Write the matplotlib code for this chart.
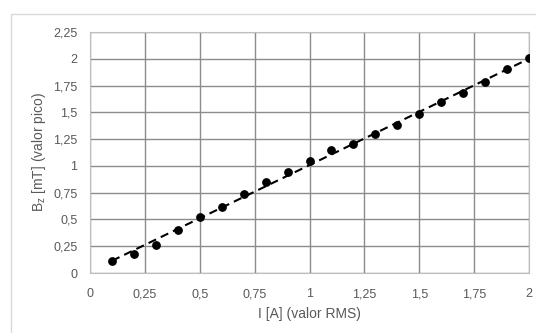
import numpy as np
import matplotlib.pyplot as plt
from matplotlib.ticker import FuncFormatter, MultipleLocator
from matplotlib.patches import Rectangle

corriente = [0.1, 0.2, 0.3, 0.4, 0.5, 0.6, 0.7, 0.8, 0.9, 1.0,
             1.1, 1.2, 1.3, 1.4, 1.5, 1.6, 1.7, 1.8, 1.9, 2.0]
campo = [0.11, 0.18, 0.26, 0.40, 0.52, 0.62, 0.74, 0.85, 0.94, 1.05,
         1.15, 1.20, 1.30, 1.38, 1.48, 1.60, 1.68, 1.78, 1.90, 2.01]

plt.rcParams['font.family'] = ['Liberation Sans', 'DejaVu Sans']
plt.rcParams['mathtext.fontset'] = 'custom'
plt.rcParams['mathtext.rm'] = 'Liberation Sans'

fig = plt.figure(figsize=(5.36, 3.33), dpi=100)
ax = fig.add_axes([0.168, 0.18, 0.819, 0.724])

# marco exterior del grafico
fig.patches.append(Rectangle((11 / 536, -0.1), 1.2, 1 - 14 / 333 + 0.1,
                             transform=fig.transFigure, fill=False,
                             edgecolor='#d9d9d9', linewidth=1))

ax.scatter(corriente, campo, s=28, color='black', zorder=3)

# linea de tendencia lineal
m, b = np.polyfit(corriente, campo, 1)
xs = np.array([min(corriente), max(corriente)])
ax.plot(xs, m * xs + b, '--', color='black', linewidth=1.5, dashes=(4, 2.5), zorder=2)

ax.set_xlim(0, 2)
ax.set_ylim(0, 2.25)
ax.xaxis.set_major_locator(MultipleLocator(0.25))
ax.yaxis.set_major_locator(MultipleLocator(0.25))
fmt = FuncFormatter(lambda v, p: ('%g' % v).replace('.', ','))
ax.xaxis.set_major_formatter(fmt)
ax.yaxis.set_major_formatter(fmt)

ax.grid(True, color='#8c8c8c', linewidth=1)
ax.set_axisbelow(True)
for s in ax.spines.values():
    s.set_color('#bfbfbf')
ax.tick_params(length=0, labelsize=9, colors='#595959')
ax.tick_params(axis='x', pad=11)
ax.tick_params(axis='y', pad=9)

ax.set_xlabel('I [A] (valor RMS)', fontsize=10, color='#595959', labelpad=5)
ax.set_ylabel(r'$\mathregular{B_z}$ [mT] (valor pico)', fontsize=10, color='#595959', labelpad=4)

fig.savefig('out.png', dpi=100)
